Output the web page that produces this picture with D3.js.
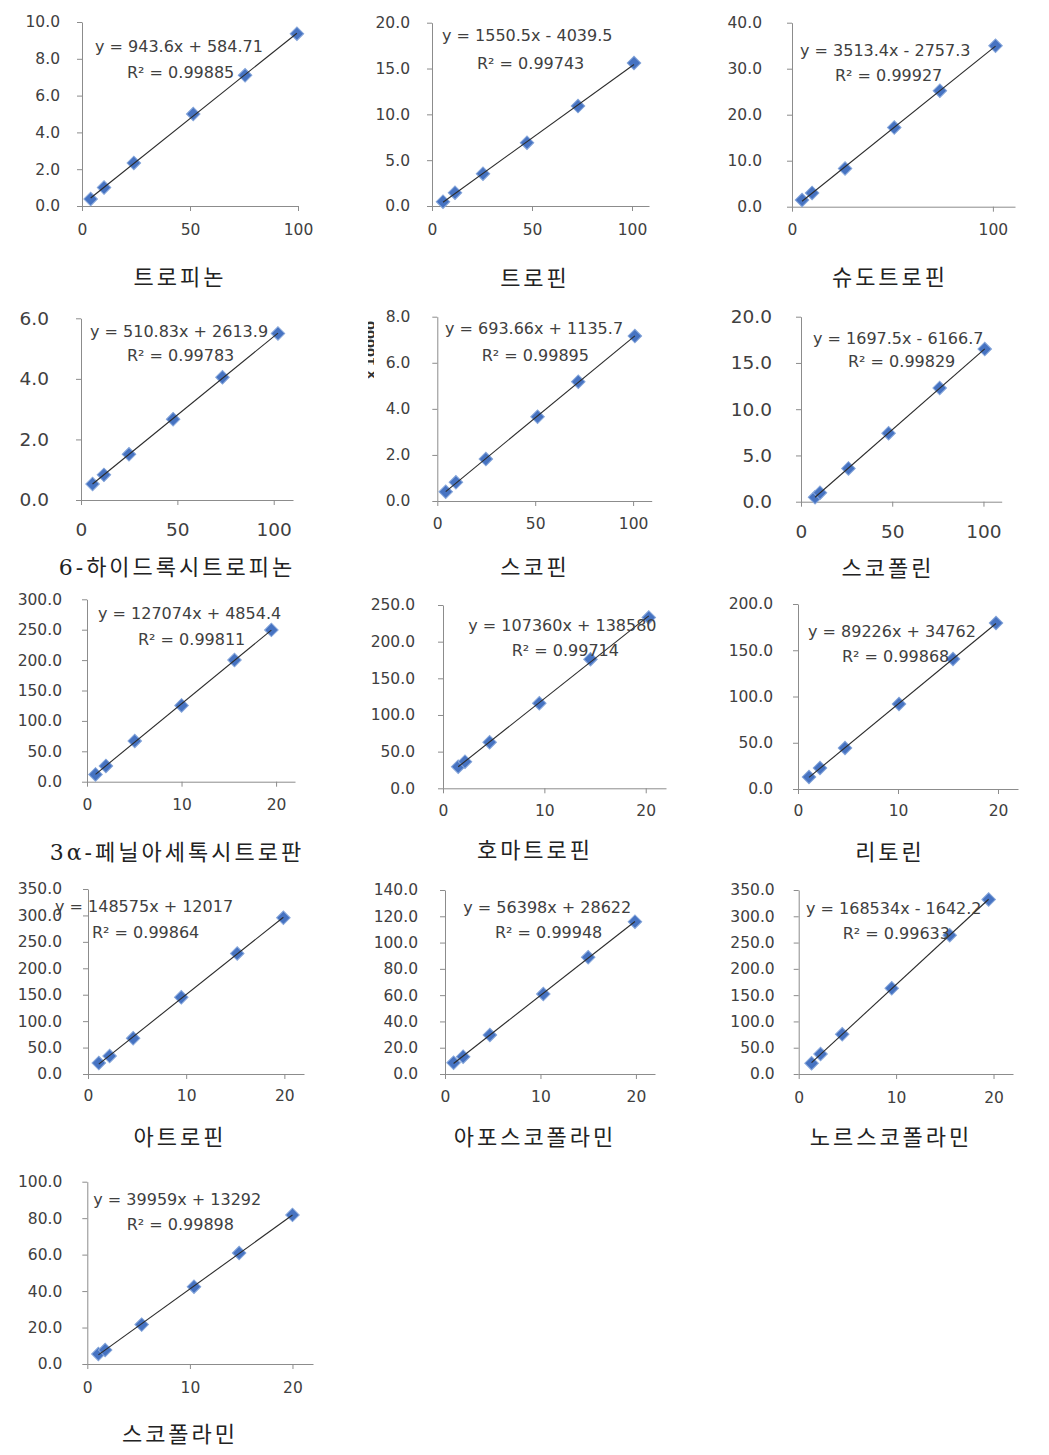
<!DOCTYPE html>
<html lang="ko">
<head>
<meta charset="UTF-8">
<title>검량선</title>
<script src="https://d3js.org/d3.v7.min.js"></script>
<style>
  body { margin: 0; background: #fff; }
  .axis path, .axis line { stroke: #8c8c8c; }
  .axis text { fill: #404040; font-family: "DejaVu Sans", sans-serif; }
  .eq { fill: #404040; font-family: "DejaVu Sans", sans-serif; font-size: 16px; }
  .title { fill: #222; font-family: "DejaVu Serif", "Noto Sans CJK KR", serif; font-size: 22px; letter-spacing: 3px; }
</style>
</head>
<body>
<script>
// chart data
var titles = ["트로피논", "트로핀", "슈도트로핀",
  "6-하이드록시트로피논", "스코핀", "스코폴린",
  "3α-페닐아세톡시트로판", "호마트로핀", "리토린",
  "아트로핀", "아포스코폴라민", "노르스코폴라민", "스코폴라민"];

var xVals = [
  [4, 10.2, 24, 51.5, 75.5, 99.5],
  [5.5, 11.5, 25.5, 47.5, 73, 101],
  [5, 10, 26.4, 50.9, 73.6, 101.3],
  [6, 11.9, 24.9, 47.8, 73.4, 102.2],
  [4.3, 9.5, 24.8, 51.2, 72, 100.9],
  [7.7, 10.4, 26, 48, 76, 100.7],
  [0.9, 2.0, 5.05, 10.0, 15.6, 19.5],
  [1.5, 2.17, 4.6, 9.5, 14.55, 20.3],
  [1.1, 2.2, 4.7, 10.1, 15.5, 19.8],
  [1.1, 2.2, 4.6, 9.5, 15.2, 19.9],
  [0.9, 1.9, 4.7, 10.3, 15.0, 19.9],
  [1.32, 2.24, 4.47, 9.55, 15.5, 19.5],
  [1.08, 1.74, 5.3, 10.4, 14.8, 20.0]
];
var yVals = [
  [0.38, 1.0, 2.34, 5.0, 7.1, 9.36],
  [0.47, 1.45, 3.52, 6.9, 10.9, 15.6],
  [1.46, 3.0, 8.3, 17.2, 25.2, 35.0],
  [0.53, 0.83, 1.51, 2.67, 4.05, 5.5],
  [0.40, 0.81, 1.82, 3.66, 5.18, 7.16],
  [0.48, 0.97, 3.6, 7.4, 12.3, 16.5],
  [12, 26, 67, 125.5, 200, 249.7],
  [29.5, 36.3, 62.8, 116, 176, 233],
  [13, 22.7, 44.3, 91.9, 140.5, 179.5],
  [20.7, 33.9, 67.8, 145, 228, 295.6],
  [8.6, 13.2, 29.7, 60.9, 88.8, 115.9],
  [20.4, 38, 75.5, 163, 264, 332],
  [5.5, 7.7, 21.6, 42.4, 60.9, 81.8]
];

var equations = ["y = 943.6x + 584.71", "y = 1550.5x - 4039.5", "y = 3513.4x - 2757.3",
  "y = 510.83x + 2613.9", "y = 693.66x + 1135.7", "y = 1697.5x - 6166.7",
  "y = 127074x + 4854.4", "y = 107360x + 138580", "y = 89226x + 34762",
  "y = 148575x + 12017", "y = 56398x + 28622", "y = 168534x - 1642.2", "y = 39959x + 13292"];
var rSquared = ["0.99885", "0.99743", "0.99927", "0.99783", "0.99895", "0.99829",
  "0.99811", "0.99714", "0.99868", "0.99864", "0.99948", "0.99633", "0.99898"];

var yMax = [10, 20, 40, 6, 8, 20, 300, 250, 200, 350, 140, 350, 100];
var yStep = [2, 5, 10, 2, 2, 5, 50, 50, 50, 50, 20, 50, 20];
var xMax = [100, 108.5, 111, 110, 109.5, 110, 22, 22, 22, 22, 22, 22, 22];
var xTicks = [[0, 50, 100], [0, 50, 100], [0, 100], [0, 50, 100], [0, 50, 100], [0, 50, 100],
  [0, 10, 20], [0, 10, 20], [0, 10, 20], [0, 10, 20], [0, 10, 20], [0, 10, 20], [0, 10, 20]];

// layout (pixels): plot frame [left, right, top, bottom]
var frames = [
  [82, 298, 22, 206], [432, 649, 22.7, 206], [792, 1015, 22.7, 206.7],
  [81, 293, 318.3, 500], [437.3, 651.7, 316.7, 501], [801, 1001.7, 316.7, 501.7],
  [87, 295, 599.3, 781.7], [443, 666, 605, 788.3], [798, 1018, 604, 789],
  [88, 304, 889, 1074], [445, 655, 890, 1074], [798.7, 1013, 890, 1074],
  [87.3, 313, 1181.7, 1364]
];
var tickFont = [15.5, 15.5, 15.5, 18.5, 15.5, 18.5, 15.5, 15.5, 15.5, 15.5, 15.5, 15.5, 15.5];
var yGap = [22, 22, 30, 32, 27, 29, 25, 28, 25, 26, 27, 24, 25];
var xGap = [24, 24, 23, 30, 23, 30, 23, 22, 22, 22, 23, 24, 24];
var eqPos = [[95, 46.7], [442, 35], [800, 50], [90, 331.7], [445, 328], [813, 338],
  [98, 613.3], [468.3, 625], [808, 631], [55, 906], [463.3, 907.3], [806, 908.3], [93.3, 1199.3]];
var r2Pos = [[127, 72], [477, 63], [835, 75], [127, 355], [481.7, 355], [848, 361.7],
  [138, 639], [511.7, 650], [842, 656], [92, 932], [495, 932.7], [842.7, 933.3], [126.7, 1224]];
var titlePos = [[180, 277], [535, 278], [890, 277], [177, 567], [535, 567], [888, 568],
  [177, 852], [535, 850], [890, 852], [180, 1137], [535, 1137], [891, 1137], [180, 1434]];

var svg = d3.select("body").append("svg")
  .attr("width", 1049)
  .attr("height", 1455);

// clipped axis-title leftover next to the 스코핀 panel
svg.append("clipPath").attr("id", "cut")
  .append("rect").attr("x", 368).attr("y", 300).attr("width", 6).attr("height", 100);
svg.append("g")
  .attr("clip-path", "url(#cut)")
  .append("text")
  .attr("transform", "translate(375,350) rotate(-90)")
  .attr("text-anchor", "middle")
  .attr("font-family", "DejaVu Sans")
  .attr("font-weight", "bold")
  .attr("font-size", 13)
  .attr("fill", "#333")
  .text("x 10000");

titles.forEach(function(name, i) {
  var f = frames[i];
  var x = d3.scaleLinear().domain([0, xMax[i]]).range([f[0], f[1]]);
  var y = d3.scaleLinear().domain([0, yMax[i]]).range([f[3], f[2]]);
  var g = svg.append("g");

  var fs = tickFont[i];
  var xa = g.append("g").attr("class", "axis")
    .attr("transform", "translate(0," + f[3] + ")")
    .call(d3.axisBottom(x).tickValues(xTicks[i]).tickSize(5).tickSizeOuter(0)
      .tickPadding(xGap[i] - 5 - fs * 0.36).tickFormat(d3.format("d")));
  xa.selectAll("text").style("font-size", fs + "px");

  var ya = g.append("g").attr("class", "axis")
    .attr("transform", "translate(" + f[0] + ",0)")
    .call(d3.axisLeft(y).tickValues(d3.range(0, yMax[i] + yStep[i] / 2, yStep[i]))
      .tickSize(5).tickSizeOuter(0).tickPadding(yGap[i] - 5).tickFormat(d3.format(".1f")));
  ya.selectAll("text").style("font-size", fs + "px");

  var pts = d3.zip(xVals[i], yVals[i]);
  g.selectAll("path.pt")
    .data(pts)
    .join("path")
    .attr("class", "pt")
    .attr("d", d3.symbol(d3.symbolSquare, 92))
    .attr("transform", function(d) { return "translate(" + x(d[0]) + "," + y(d[1]) + ") rotate(45)"; })
    .attr("fill", "#4673c2")
    .attr("stroke", "#86a6da")
    .attr("stroke-width", 1);

  // least squares trendline
  var mx = d3.mean(xVals[i]), my = d3.mean(yVals[i]);
  var slope = d3.sum(pts, function(d) { return (d[0] - mx) * (d[1] - my); }) /
    d3.sum(pts, function(d) { return (d[0] - mx) * (d[0] - mx); });
  var icpt = my - slope * mx;
  var ext = d3.extent(xVals[i]);
  g.append("line")
    .attr("x1", x(ext[0])).attr("y1", y(icpt + slope * ext[0]))
    .attr("x2", x(ext[1])).attr("y2", y(icpt + slope * ext[1]))
    .attr("stroke", "#2b2b2b")
    .attr("stroke-width", 1.1);

  g.append("text").attr("class", "eq")
    .attr("x", eqPos[i][0]).attr("y", eqPos[i][1]).attr("dy", "0.35em")
    .text(equations[i]);
  g.append("text").attr("class", "eq")
    .attr("x", r2Pos[i][0]).attr("y", r2Pos[i][1]).attr("dy", "0.35em")
    .text("R² = " + rSquared[i]);

  g.append("text").attr("class", "title")
    .attr("x", titlePos[i][0]).attr("y", titlePos[i][1]).attr("dy", "0.35em")
    .attr("text-anchor", "middle")
    .text(name);
});
</script>
</body>
</html>
